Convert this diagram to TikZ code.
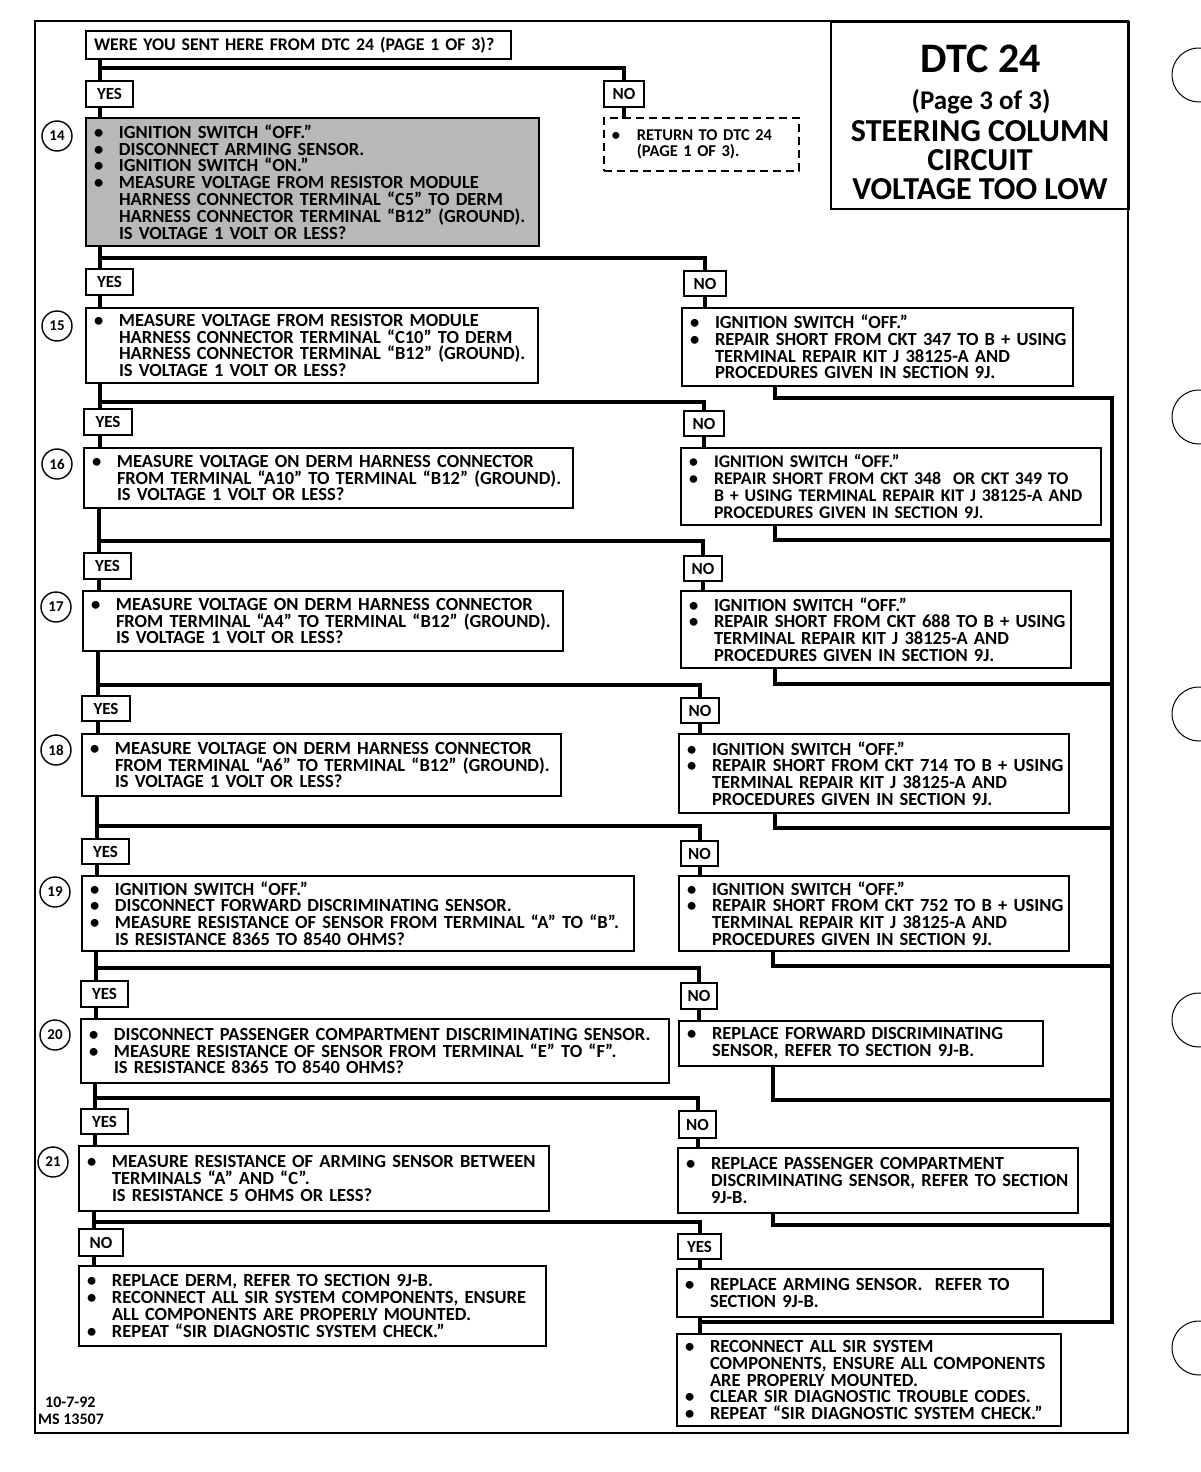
\documentclass[tikz,border=0pt]{standalone}
\usepackage{fontspec}
\setmainfont{Carlito}
\usetikzlibrary{calc}
\lineskiplimit=-30pt
\newcommand{\bodyfont}{\bfseries\fontsize{18.5}{16.8}\selectfont}
\newcommand{\smallbody}{\bfseries\fontsize{17.8}{16.8}\selectfont}
\newcommand{\lblfont}{\bfseries\fontsize{17}{17}\selectfont}
\newcommand{\numfont}{\bfseries\fontsize{15}{15}\selectfont}
\newcommand{\bl}[1]{\mbox{\makebox[25pt][l]{•}#1}}
\newcommand{\cl}[1]{\mbox{\hspace*{25pt}#1}}
\begin{document}
\begin{tikzpicture}[x=1pt,y=-1pt,
  box/.style={draw, line width=2pt, fill=white, anchor=north west, inner xsep=8pt, inner ysep=0pt, align=left, font=\bodyfont},
  lbl/.style={draw, line width=2pt, fill=white, anchor=north west, inner sep=0pt, font=\lblfont},
  num/.style={draw, circle, line width=1.4pt, minimum size=30pt, inner sep=0pt, font=\numfont},
  conn/.style={line width=4pt, line cap=rect, line join=miter},
  hole/.style={line width=1pt}]
\useasboundingbox (0,0) rectangle (1200,1472);
\fill[white] (0,0) rectangle (1200,1472);

% page frame
\draw[line width=2.5pt] (35,21) rectangle (1128,1433);

% title
\node[draw, line width=2pt, anchor=north west, minimum width=298pt, minimum height=187pt] (title) at (830,21) {};
\node[anchor=base, font=\bfseries\fontsize{42}{42}\selectfont] (t1) at (981,72) {DTC 24};
\node[anchor=base, font=\bfseries\fontsize{27}{27}\selectfont] (t2) at (981,109) {(Page 3 of 3)};
\node[anchor=base, font=\bfseries\fontsize{32}{32}\selectfont] (t3) at (980,141) {STEERING COLUMN};
\node[anchor=base, font=\bfseries\fontsize{32}{32}\selectfont] (t4) at (980,170) {CIRCUIT};
\node[anchor=base, font=\bfseries\fontsize{32}{32}\selectfont] (t5) at (980,199) {VOLTAGE TOO LOW};

% question
\node[box, font=\smallbody, minimum width=425pt, minimum height=28pt, text width=409pt] (q) at (85,30) {\mbox{WERE YOU SENT HERE FROM DTC 24 (PAGE 1 OF 3)?}};

% ---- step 14
\node[lbl, minimum width=47pt, minimum height=26pt] (yes14) at (85,80) {YES};
\node[lbl, minimum width=40pt, minimum height=26pt] (no14) at (603,80) {NO};
\node[box, dashed, dash pattern=on 8pt off 5pt, line width=1.6pt, minimum width=195pt, minimum height=53pt, text width=179pt, font=\bfseries\fontsize{16.5}{16.5}\selectfont] (ret) at (603,117) {\bl{RETURN TO DTC 24}\\\cl{(PAGE 1 OF 3).}};
\node[box, fill=black!28, minimum width=453pt, minimum height=128pt, text width=437pt] (b14) at (85,117) {\bl{IGNITION SWITCH “OFF.”}\\\bl{DISCONNECT ARMING SENSOR.}\\\bl{IGNITION SWITCH “ON.”}\\\bl{MEASURE VOLTAGE FROM RESISTOR MODULE}\\\cl{HARNESS CONNECTOR TERMINAL “C5” TO DERM}\\\cl{HARNESS CONNECTOR TERMINAL “B12” (GROUND).}\\\cl{IS VOLTAGE 1 VOLT OR LESS?}};
\node[num] (c14) at (57,136) {14};

% ---- step 15
\node[lbl, minimum width=47pt, minimum height=26pt] (yes15) at (85,268) {YES};
\node[lbl, minimum width=42pt, minimum height=25pt] (no15) at (683,270) {NO};
\node[box, minimum width=452pt, minimum height=75pt, text width=436pt] (b15) at (85,307) {\bl{MEASURE VOLTAGE FROM RESISTOR MODULE}\\\cl{HARNESS CONNECTOR TERMINAL “C10” TO DERM}\\\cl{HARNESS CONNECTOR TERMINAL “B12” (GROUND).}\\\cl{IS VOLTAGE 1 VOLT OR LESS?}};
\node[box, minimum width=391pt, minimum height=78pt, text width=375pt] (n15) at (681,307) {\bl{IGNITION SWITCH “OFF.”}\\\bl{REPAIR SHORT FROM CKT 347 TO B + USING}\\\cl{TERMINAL REPAIR KIT J 38125-A AND}\\\cl{PROCEDURES GIVEN IN SECTION 9J.}};
\node[num] (c15) at (57,326) {15};

% ---- step 16
\node[lbl, minimum width=48pt, minimum height=26pt] (yes16) at (83,408) {YES};
\node[lbl, minimum width=40pt, minimum height=25pt] (no16) at (683,410) {NO};
\node[box, minimum width=489pt, minimum height=60pt, text width=473pt] (b16) at (83,447) {\bl{MEASURE VOLTAGE ON DERM HARNESS CONNECTOR}\\\cl{FROM TERMINAL “A10” TO TERMINAL “B12” (GROUND).}\\\cl{IS VOLTAGE 1 VOLT OR LESS?}};
\node[box, font=\smallbody, minimum width=420pt, minimum height=77pt, text width=404pt] (n16) at (680,447) {\bl{IGNITION SWITCH “OFF.”}\\\bl{REPAIR SHORT FROM CKT 348 \ OR CKT 349 TO}\\\cl{B + USING TERMINAL REPAIR KIT J 38125-A AND}\\\cl{PROCEDURES GIVEN IN SECTION 9J.}};
\node[num] (c16) at (57,464) {16};

% ---- step 17
\node[lbl, minimum width=47pt, minimum height=26pt] (yes17) at (83,552) {YES};
\node[lbl, minimum width=38pt, minimum height=25pt] (no17) at (683,555) {NO};
\node[box, minimum width=480pt, minimum height=60pt, text width=464pt] (b17) at (82,590) {\bl{MEASURE VOLTAGE ON DERM HARNESS CONNECTOR}\\\cl{FROM TERMINAL “A4” TO TERMINAL “B12” (GROUND).}\\\cl{IS VOLTAGE 1 VOLT OR LESS?}};
\node[box, minimum width=390pt, minimum height=77pt, text width=374pt] (n17) at (680,590) {\bl{IGNITION SWITCH “OFF.”}\\\bl{REPAIR SHORT FROM CKT 688 TO B + USING}\\\cl{TERMINAL REPAIR KIT J 38125-A AND}\\\cl{PROCEDURES GIVEN IN SECTION 9J.}};
\node[num] (c17) at (56,607) {17};

% ---- step 18
\node[lbl, minimum width=48pt, minimum height=25pt] (yes18) at (81,695) {YES};
\node[lbl, minimum width=38pt, minimum height=25pt] (no18) at (680,697) {NO};
\node[box, minimum width=479pt, minimum height=62pt, text width=463pt] (b18) at (81,733) {\bl{MEASURE VOLTAGE ON DERM HARNESS CONNECTOR}\\\cl{FROM TERMINAL “A6” TO TERMINAL “B12” (GROUND).}\\\cl{IS VOLTAGE 1 VOLT OR LESS?}};
\node[box, minimum width=390pt, minimum height=79pt, text width=374pt] (n18) at (678,733) {\bl{IGNITION SWITCH “OFF.”}\\\bl{REPAIR SHORT FROM CKT 714 TO B + USING}\\\cl{TERMINAL REPAIR KIT J 38125-A AND}\\\cl{PROCEDURES GIVEN IN SECTION 9J.}};
\node[num] (c18) at (56,750) {18};

% ---- step 19
\node[lbl, minimum width=47pt, minimum height=25pt] (yes19) at (81,838) {YES};
\node[lbl, minimum width=37pt, minimum height=25pt] (no19) at (680,840) {NO};
\node[box, minimum width=552pt, minimum height=75pt, text width=536pt] (b19) at (81,875) {\bl{IGNITION SWITCH “OFF.”}\\\bl{DISCONNECT FORWARD DISCRIMINATING SENSOR.}\\\bl{MEASURE RESISTANCE OF SENSOR FROM TERMINAL “A” TO “B”.}\\\cl{IS RESISTANCE 8365 TO 8540 OHMS?}};
\node[box, minimum width=390pt, minimum height=75pt, text width=374pt] (n19) at (678,875) {\bl{IGNITION SWITCH “OFF.”}\\\bl{REPAIR SHORT FROM CKT 752 TO B + USING}\\\cl{TERMINAL REPAIR KIT J 38125-A AND}\\\cl{PROCEDURES GIVEN IN SECTION 9J.}};
\node[num] (c19) at (55,892) {19};

% ---- step 20
\node[lbl, minimum width=47pt, minimum height=26pt] (yes20) at (80,980) {YES};
\node[lbl, minimum width=36pt, minimum height=26pt] (no20) at (680,982) {NO};
\node[box, minimum width=588pt, minimum height=64pt, text width=572pt] (b20) at (80,1018) {\bl{DISCONNECT PASSENGER COMPARTMENT DISCRIMINATING SENSOR.}\\\bl{MEASURE RESISTANCE OF SENSOR FROM TERMINAL “E” TO “F”.}\\\cl{IS RESISTANCE 8365 TO 8540 OHMS?}};
\node[box, minimum width=364pt, minimum height=45pt, text width=348pt] (n20) at (678,1020) {\bl{REPLACE FORWARD DISCRIMINATING}\\\cl{SENSOR, REFER TO SECTION 9J-B.}};
\node[num] (c20) at (55,1035) {20};

% ---- step 21
\node[lbl, minimum width=47pt, minimum height=25pt] (yes21) at (80,1108) {YES};
\node[lbl, minimum width=37pt, minimum height=27pt] (no21) at (678,1110) {NO};
\node[box, minimum width=470pt, minimum height=65pt, text width=454pt] (b21) at (78,1145) {\bl{MEASURE RESISTANCE OF ARMING SENSOR BETWEEN}\\\cl{TERMINALS “A” AND “C”.}\\\cl{IS RESISTANCE 5 OHMS OR LESS?}};
\node[box, minimum width=400pt, minimum height=65pt, text width=384pt] (n21) at (677,1147) {\bl{REPLACE PASSENGER COMPARTMENT}\\\cl{DISCRIMINATING SENSOR, REFER TO SECTION}\\\cl{9J-B.}};
\node[num] (c21) at (53,1162) {21};

% ---- results of 21
\node[lbl, minimum width=44pt, minimum height=27pt] (no22) at (78,1228) {NO};
\node[lbl, minimum width=43pt, minimum height=25pt] (yes22) at (677,1233) {YES};
\node[box, minimum width=467pt, minimum height=80pt, text width=451pt] (l22) at (78,1265) {\bl{REPLACE DERM, REFER TO SECTION 9J-B.}\\\bl{RECONNECT ALL SIR SYSTEM COMPONENTS, ENSURE}\\\cl{ALL COMPONENTS ARE PROPERLY MOUNTED.}\\\bl{REPEAT “SIR DIAGNOSTIC SYSTEM CHECK.”}};
\node[box, minimum width=366pt, minimum height=48pt, text width=350pt] (r22) at (676,1268) {\bl{REPLACE ARMING SENSOR. \ REFER TO}\\\cl{SECTION 9J-B.}};
\node[box, minimum width=384pt, minimum height=92pt, text width=368pt] (fin) at (676,1333) {\bl{RECONNECT ALL SIR SYSTEM}\\\cl{COMPONENTS, ENSURE ALL COMPONENTS}\\\cl{ARE PROPERLY MOUNTED.}\\\bl{CLEAR SIR DIAGNOSTIC TROUBLE CODES.}\\\bl{REPEAT “SIR DIAGNOSTIC SYSTEM CHECK.”}};

% footer
\node[anchor=base west, font=\bfseries\fontsize{16}{16}\selectfont, inner sep=0pt] (date) at (45,1407) {10-7-92};
\node[anchor=base west, font=\bfseries\fontsize{16}{16}\selectfont, inner sep=0pt] (ms) at (38,1424) {MS 13507};

% ---- junction coordinates (left branches)
\coordinate (j14) at (100,68);
\coordinate (j15) at (100,258);
\coordinate (j16) at (100,402);
\coordinate (j17) at (99,541);
\coordinate (j18) at (98,685);
\coordinate (j19) at (97,826);
\coordinate (j20) at (96,968);
\coordinate (j21) at (95,1098);
\coordinate (j22) at (94,1222);
% return lines and bus
\coordinate (r15) at (775,398);
\coordinate (r16) at (775,540);
\coordinate (r17) at (775,684);
\coordinate (r18) at (775,828);
\coordinate (r19) at (773,966);
\coordinate (r20) at (773,1100);
\coordinate (r21) at (773,1225);
\coordinate (busBot) at (1112,1322);

% question -> 14
\draw[conn] (q.south -| j14) -- (j14 |- yes14.north);
\draw[conn] (j14) -| (no14.north);
\draw[conn] (no14.south) -- (ret.north -| no14.south);
\draw[conn] (j14 |- yes14.south) -- (j14 |- b14.north);
% generic steps
\foreach \p/\k in {14/15,15/16,16/17,17/18,18/19,19/20,20/21}{
  \draw[conn] (b\p.south -| j\k) -- (j\k |- yes\k.north);
  \draw[conn] (j\k) -| (no\k.north);
  \draw[conn] (j\k |- yes\k.south) -- (j\k |- b\k.north);
  \draw[conn] (no\k.south) -- (n\k.north -| no\k.south);
}
% 21 -> results
\draw[conn] (b21.south -| j22) -- (j22 |- no22.north);
\draw[conn] (j22) -| (yes22.north);
\draw[conn] (j22 |- no22.south) -- (j22 |- l22.north);
\draw[conn] (yes22.south) -- (r22.north -| yes22.south);
\draw[conn] (r22.south -| yes22.south) -- (fin.north -| yes22.south);
% returns to bus
\foreach \k in {15,16,17,18,19,20,21}{
  \draw[conn] (n\k.south -| r\k) |- (r\k -| busBot);
}
\draw[conn] (r15 -| busBot) -- (busBot);
\draw[conn] (busBot) -- (busBot -| yes22.south);

% binder holes
\foreach \cy in {75,417,714,1020,1348}{
  \draw[hole] (1199,\cy) ++(80:27) arc[start angle=80, end angle=280, radius=27];
}
\end{tikzpicture}
\end{document}
